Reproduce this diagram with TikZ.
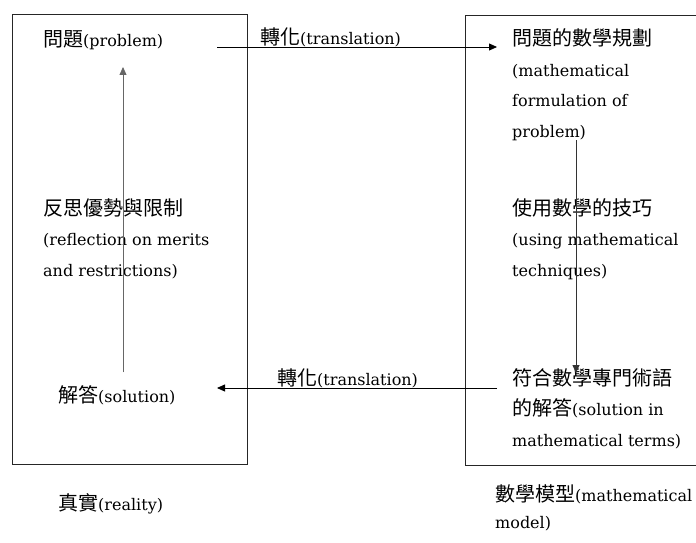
\documentclass[tikz,border=0pt]{standalone}
\usepackage{fontspec}
\setmainfont{DejaVu Serif}
\newfontfamily\cjkfont{Noto Sans CJK TC}
\newcommand{\zh}[1]{{\cjkfont\fontsize{20}{30}\selectfont #1}}
\usetikzlibrary{arrows.meta}
\begin{document}
\begin{tikzpicture}[x=1pt,y=-1pt,
  txt/.style={anchor=base west,inner sep=0pt,align=left,font=\fontsize{16}{30.5}\selectfont},
  boxline/.style={line width=1pt,black!85},
  conn/.style={line width=0.8pt,-{Triangle[length=8pt,width=7pt]}},
  connup/.style={conn,draw=black!60,fill=black!60}]
\useasboundingbox (0,0) rectangle (696,543);
\fill[white] (0,0) rectangle (696,543);
% frames
\draw[boxline] (12,15) rectangle (247,464);
\draw[boxline] (697,16) -- (465,16) -- (465,465) -- (697,465);
% texts (anchored at the baseline of their last line)
\node[txt] (problem) at (43,47) {\zh{問題}(problem)};
\node[txt] (formulation) at (512,137) {\zh{問題的數學規劃}\\(mathematical\\formulation of\\problem)};
\node[txt] (reflection) at (43,276) {\zh{反思優勢與限制}\\(reflection on merits\\and restrictions)};
\node[txt] (techniques) at (512,276) {\zh{使用數學的技巧}\\(using mathematical\\techniques)};
\node[txt] (solution) at (58,402) {\zh{解答}(solution)};
\node[txt] (solmath) at (512,446) {\zh{符合數學專門術語}\\\zh{的解答}(solution in\\mathematical terms)};
\node[txt] (reality) at (58,510) {\zh{真實}(reality)};
\node[txt,font=\fontsize{16}{27}\selectfont] (model) at (495,528) {\zh{數學模型}(mathematical\\model)};
\node[txt] (trtop) at (260,45) {\zh{轉化}(translation)};
\node[txt] (trbot) at (277,385) {\zh{轉化}(translation)};
% connector ends
\coordinate (a1) at (217,47);
\coordinate (a2) at (497,47);
\coordinate (b1) at (497,388);
\coordinate (b2) at (217,388);
\coordinate (c1) at (123,372);
\coordinate (c2) at (123,67);
\coordinate (d1) at (576,140);
\coordinate (d2) at (576,373);
\draw[conn] (a1) -- (a2);
\draw[conn] (b1) -- (b2);
\draw[connup] (c1) -- (c2);
\draw[conn,draw=black!80,fill=black!80] (d1) -- (d2);
\end{tikzpicture}
\end{document}
